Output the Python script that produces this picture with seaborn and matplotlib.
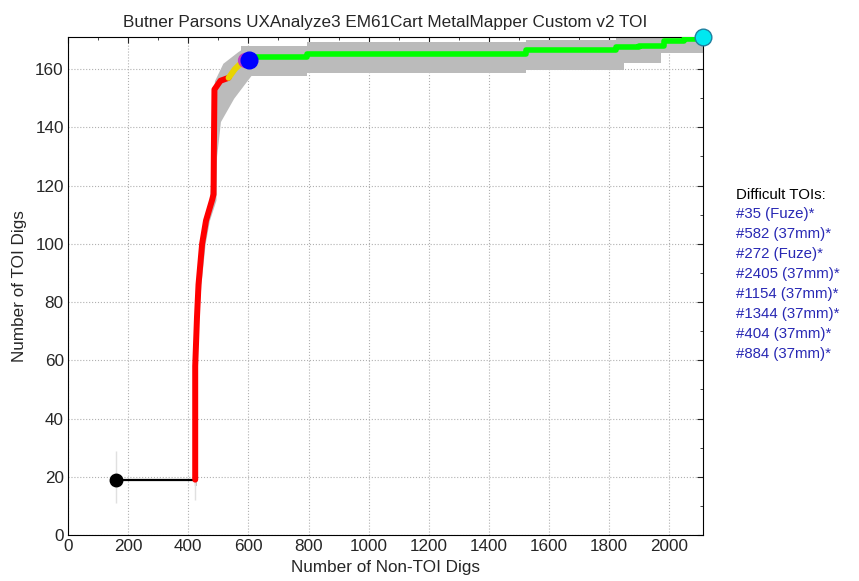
import numpy as np
import pandas as pd
import matplotlib
matplotlib.use('Agg')
import matplotlib.pyplot as plt
import seaborn as sns

# values
start_x = [160, 423]
start_y = [19, 19]

red_x = [423, 423, 429, 434, 446, 459, 479, 484, 485, 487, 507, 534]
red_y = [19, 58, 75, 86, 100, 108, 115, 117, 131, 153, 156, 157]

yellow_x = [534, 555, 575]
yellow_y = [157, 160, 162]

green_x = [601, 796, 1523, 1823, 1900, 1983, 2050, 2112]
green_y = [164, 165.3, 166.6, 167.5, 168, 169.5, 170.2, 171]

# uncertainty band, steep part (x range per y level)
steep_y = [17, 58, 75, 86, 100, 108, 115, 130, 142, 150, 156, 162, 166, 168]
steep_lo = [420, 420, 424, 428, 438, 450, 470, 480, 482, 483, 487, 515, 565, 595]
steep_hi = [427, 428, 434, 442, 456, 470, 492, 494, 507, 551, 595, 640, 660, 660]

# uncertainty band, flat part (y range per x)
flat_x = [575, 796, 1523, 1823, 1850, 1973, 2112]
flat_lo = [157.5, 158.6, 159.8, 159.8, 162, 165.5, 165.5]
flat_hi = [167.8, 169.2, 170, 171, 171, 171, 171]

difficult = ['#35 (Fuze)*', '#582 (37mm)*', '#272 (Fuze)*', '#2405 (37mm)*',
             '#1154 (37mm)*', '#1344 (37mm)*', '#404 (37mm)*', '#884 (37mm)*']

sns.set_style('white')
plt.rcParams['font.family'] = ['Liberation Sans', 'DejaVu Sans']

fig = plt.figure(figsize=(8.59, 5.81), dpi=100)
ax = fig.add_axes([0.0792, 0.0792, 0.7392, 0.857])

band = '#bbbbbb'
ax.fill_betweenx(steep_y, steep_lo, steep_hi, color=band, lw=0, zorder=1)
ax.fill_between(flat_x, flat_lo, flat_hi, step='post', color=band, lw=0, zorder=1)
ax.vlines([160, 423], [11, 12], [29, 28], color='#e0e0e0', lw=1, zorder=1)

sns.lineplot(x=start_x, y=start_y, color='black', lw=1.6, sort=False,
             estimator=None, ax=ax, zorder=3)
sns.lineplot(x=red_x, y=red_y, color='#ff0000', lw=4.3, sort=False,
             estimator=None, ax=ax, zorder=3)
sns.lineplot(x=yellow_x, y=yellow_y, color='#e8d400', lw=4.3, sort=False,
             estimator=None, ax=ax, zorder=3)
sns.lineplot(x=green_x, y=green_y, color='#00ff00', lw=4, sort=False,
             estimator=None, drawstyle='steps-post', ax=ax, zorder=3)

ax.plot(start_x[0], start_y[0], 'o', color='black', ms=9, zorder=5)
ax.plot(590, 163, 'o', color='#c040c0', ms=10, zorder=4)
ax.plot(601, 163, 'o', color='#0000ff', ms=12, zorder=5)
ax.plot(green_x[-1], green_y[-1], 'o', mfc='#00e8f0', mec='#2080a0', ms=12,
        zorder=5, clip_on=False)

ax.set_xlim(0, 2112)
ax.set_ylim(0, 171)
ax.set_xticks(np.arange(0, 2001, 200))
ax.set_yticks(np.arange(0, 161, 20))
ax.set_xticks(np.arange(0, 2101, 100), minor=True)
ax.set_yticks(np.arange(0, 171, 10), minor=True)
ax.tick_params(which='both', direction='in', top=True, right=True, labelsize=12.3)
ax.tick_params(which='major', length=4, pad=3)
ax.tick_params(which='minor', length=2)
ax.grid(True, which='major', ls=':', color='#b0b0b0', lw=0.8)
for s in ax.spines.values():
    s.set_color('black')
    s.set_linewidth(0.8)

ax.set_title('Butner Parsons UXAnalyze3 EM61Cart MetalMapper Custom v2 TOI',
             fontsize=12.3, pad=7)
ax.set_xlabel('Number of Non-TOI Digs', fontsize=12.3, labelpad=4)
ax.set_ylabel('Number of TOI Digs', fontsize=12.3, labelpad=6)

fig.text(736 / 859, 1 - 195 / 581, 'Difficult TOIs:', fontsize=10.8,
         color='black', va='center')
for i, t in enumerate(difficult):
    fig.text(736 / 859, 1 - (214 + 20 * i) / 581, t, fontsize=10.8,
             color='#2828b4', va='center')

fig.savefig('out.png', dpi=100)
